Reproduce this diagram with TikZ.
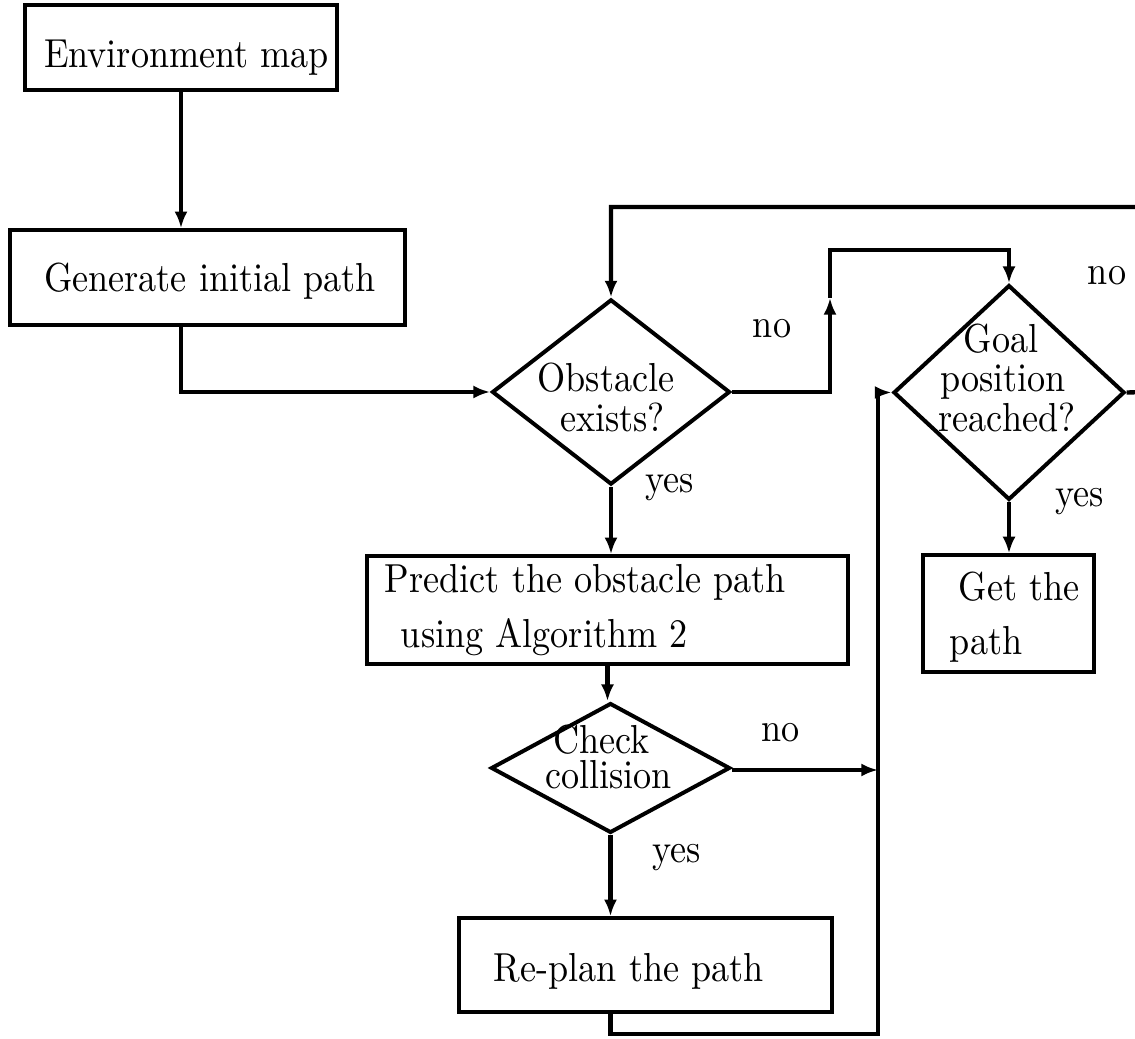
\documentclass[tikz,border=0pt]{standalone}
\usetikzlibrary{arrows.meta,shapes.geometric}
\begin{document}
\begin{tikzpicture}[x=0.2765pt,y=-0.2765pt,line width=1.05pt,line join=miter,
  box/.style={draw,rectangle,inner sep=0pt,line width=0.95pt},
  dia/.style={draw,diamond,inner sep=0pt,line width=1.1pt},
  txt/.style={inner sep=0pt,anchor=base,font=\fontsize{10}{12}\selectfont,yscale=1.12,transform shape},
  txtl/.style={txt,anchor=base west},
  arr/.style={line width=1.2pt,-{Latex[length=4.6pt,width=3.6pt]}}]
\useasboundingbox (0,0) rectangle (1135,1039);
\clip (0,0) rectangle (1135,1039);
% shapes
\node[box,minimum width=86.3pt,minimum height=23.5pt] (env) at (181,47.5) {};
\node[box,minimum width=109.2pt,minimum height=26.3pt] (gen) at (207.5,277.5) {};
\node[dia,minimum width=65.8pt,minimum height=51.2pt] (obs) at (611,392) {};
\node[dia,minimum width=63.9pt,minimum height=59.4pt] (goal) at (1009,392.5) {};
\node[box,minimum width=133.0pt,minimum height=29.9pt] (pred) at (607.5,610) {};
\node[dia,minimum width=66.1pt,minimum height=35.9pt] (chk) at (610.5,768) {};
\node[box,minimum width=47.3pt,minimum height=32.3pt] (get) at (1008.5,613.5) {};
\node[box,minimum width=103.1pt,minimum height=26.0pt] (rep) at (645.5,965) {};
% texts
\node[txt] (tenv) at (186.5,68) {Environment map};
\node[txt] (tgen) at (210,292) {Generate initial path};
\node[txt] (tobs1) at (606,392) {Obstacle};
\node[txt] (tobs2) at (612.5,432) {exists?};
\node[txt] (tgoal1) at (1001,353) {Goal};
\node[txt] (tgoal2) at (1003,392) {position};
\node[txt] (tgoal3) at (1007,432) {reached?};
\node[txtl] (tpred1) at (383,593) {Predict the obstacle path};
\node[txtl] (tpred2) at (399,648) {using Algorithm 2};
\node[txt] (tchk1) at (601.5,754) {Check};
\node[txt] (tchk2) at (608.5,789) {collision};
\node[txtl] (tget1) at (957,601) {Get the};
\node[txtl] (tget2) at (948,655) {path};
\node[txtl] (trep) at (492,982) {Re-plan the path};
% labels
\node[txt] (lno1) at (772,338) {no};
\node[txt] (lno2) at (1107,285) {no};
\node[txt] (lyes1) at (670,493) {yes};
\node[txt] (lyes2) at (1080,507) {yes};
\node[txt] (lno3) at (780.5,742) {no};
\node[txt] (lyes3) at (677,863) {yes};
% helper coordinates
\coordinate (n1) at (830,392);
\coordinate (n2) at (830,298);
\coordinate (n3) at (830,250);
\coordinate (r1) at (1150,392);
\coordinate (r2) at (1150,207);
\coordinate (v1) at (878,770);
\coordinate (v2) at (878,1034);
% connectors
\draw[arr] (env.south) -- (env.south |- gen.north);
\draw[arr] (env.south |- gen.south) |- (obs.west);
\draw[arr] (obs.east) -- (n1) -- (n2);
\draw[arr] (n2) -- (n3) -| (goal.north);
\draw[arr] (goal.east) -- (r1) -- (r2) -| (obs.north);
\draw[arr] (obs.south) -- (obs.south |- pred.north);
\draw[arr] (pred.south) -- (pred.south |- chk.north);
\draw[arr] (chk.east |- v1) -- (v1);
\draw[arr] (chk.south) -- (chk.south |- rep.north);
\draw[arr] (chk.south |- rep.south) |- (v2) |- (goal.west);
\draw[arr] (goal.south) -- (goal.south |- get.north);
\end{tikzpicture}
\end{document}
